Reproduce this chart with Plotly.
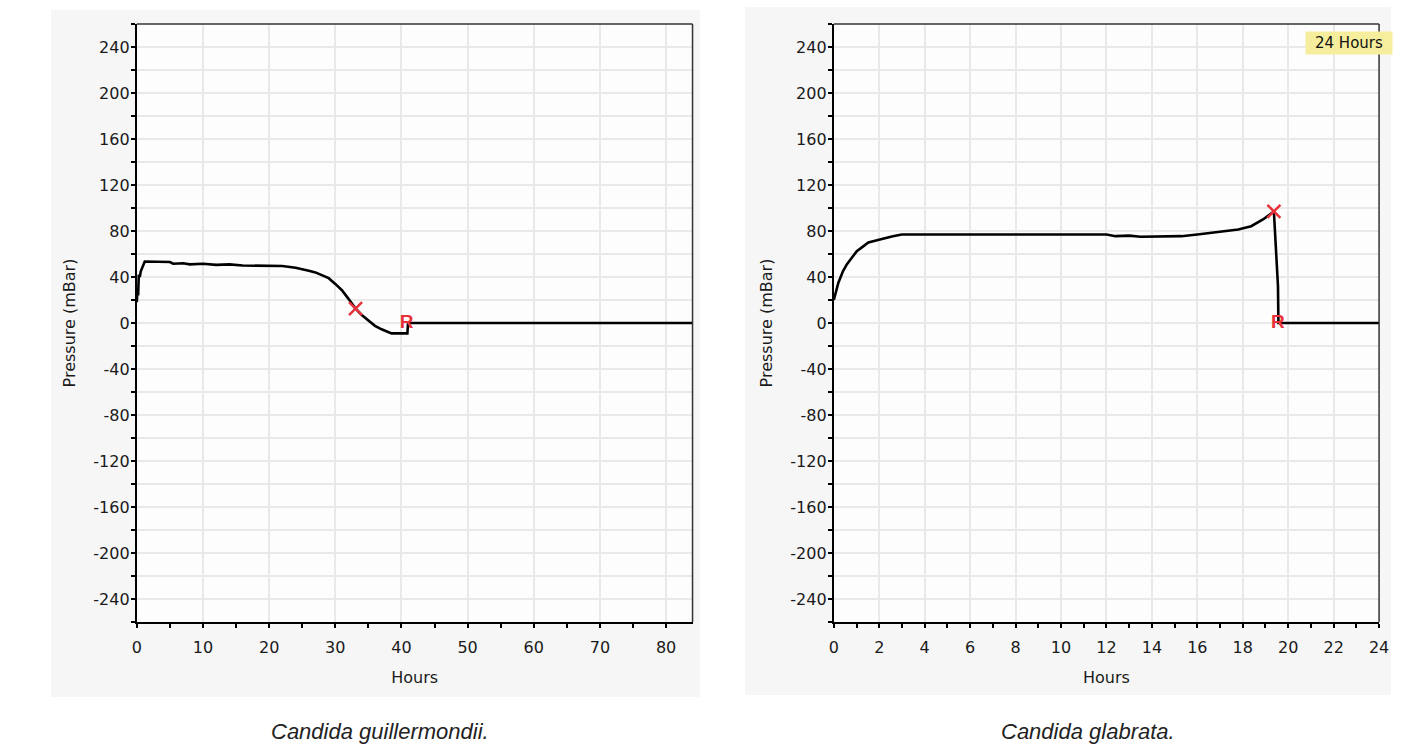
import plotly.graph_objects as go

# ---------------- data ----------------
guil_hours = [0.0, 0.1, 0.2, 0.3, 0.45, 0.6, 1.2, 3.0, 5.0, 5.5, 7.0, 8.0, 10.0, 12.0, 14.0,
              16.0, 18.0, 20.0, 22.0, 24.0, 25.0, 26.0, 27.0, 28.0, 29.0, 30.0, 31.0, 32.0,
              33.0, 34.0, 35.0, 36.0, 37.0, 38.0, 38.5, 40.9, 41.0, 84.0]
guil_pressure = [18, 30, 24, 42, 40, 45, 53.5, 53.5, 53, 51.5, 52, 51, 51.5, 50.5, 51,
                 50, 50, 50, 49.5, 48, 47, 45.5, 44, 41.5, 39, 34, 28.5, 21,
                 13, 7, 2, -2.5, -5.5, -8, -9, -9, 0, 0]
guil_x_mark = [33.06]
guil_x_val = [12.6]
guil_r_mark = [40.8]
guil_r_val = [0]

glab_hours = [0.0, 0.1, 0.2, 0.4, 0.57, 0.8, 1.01, 1.25, 1.52, 1.9, 2.24, 2.6, 2.99, 4.0, 6.0,
              8.0, 10.0, 12.0, 12.4, 13.0, 13.5, 15.0, 15.3, 16.0, 16.75, 17.8, 18.37, 18.89,
              19.37, 19.44, 19.55, 19.57, 20.0, 24.0]
glab_pressure = [20, 28, 35, 45, 51, 57, 62.4, 66, 70, 72, 74, 75.5, 77, 77, 77,
                 77, 77, 77, 75.5, 76, 75, 75, 75.5, 77, 78.7, 81.3, 84.2, 90,
                 97, 67, 32, 0, 0, 0]
glab_x_mark = [19.37]
glab_x_val = [97]
glab_r_mark = [19.55]
glab_r_val = [0]

y_ticks = [-240, -200, -160, -120, -80, -40, 0, 40, 80, 120, 160, 200, 240]
guil_xticks = [0, 10, 20, 30, 40, 50, 60, 70, 80]
glab_xticks = [0, 2, 4, 6, 8, 10, 12, 14, 16, 18, 20, 22, 24]

captions = ["Candida guillermondii.", "Candida glabrata."]
badge_text = "24 Hours"

# ---------------- figure ----------------
REF_W = 1427
W, H = 1440, 749             # drawn at the page's top-left corner (body margin removed)
SHIFT = 2

def px(x):                   # target picture pixel -> paper x
    return (x - SHIFT) / REF_W

def py(y):                   # target picture pixel -> paper y
    return (H - y) / H

RED = "#e8323a"
TICKFONT = dict(family="DejaVu Sans", size=16, color="#1a1a1a")
GRID = "#e9e9e9"

fig = go.Figure()

def add_series(xs, ys, xm, ym, xr, yr, xa, ya):
    fig.add_trace(go.Scatter(x=xs, y=ys, mode="lines", xaxis=xa, yaxis=ya,
                             line=dict(color="black", width=2.6), showlegend=False,
                             hoverinfo="skip"))
    fig.add_trace(go.Scatter(x=xm, y=ym, mode="markers", xaxis=xa, yaxis=ya,
                             marker=dict(symbol="x-thin", size=13,
                                         line=dict(color=RED, width=2.5)),
                             showlegend=False, hoverinfo="skip"))
    fig.add_trace(go.Scatter(x=xr, y=yr, mode="text", xaxis=xa, yaxis=ya, text=["R"],
                             textposition="middle center",
                             textfont=dict(family="Liberation Sans", size=19, color=RED,
                                           weight="bold"),
                             showlegend=False, hoverinfo="skip"))

add_series(guil_hours, guil_pressure, guil_x_mark, guil_x_val, guil_r_mark, guil_r_val, "x", "y")
add_series(glab_hours, glab_pressure, glab_x_mark, glab_x_val, glab_r_mark, glab_r_val, "x2", "y2")

ydom = [py(622), py(24)]
xdom1 = [px(134), px(690.5)]
xdom2 = [px(832), px(1378)]

def xaxis_cfg(dom, rng, ticks, minor_dtick, anchor):
    return dict(domain=dom, range=rng, anchor=anchor, tickmode="array", tickvals=ticks,
                ticktext=[str(t) for t in ticks],
                showline=True, linecolor="black", linewidth=2, mirror=False,
                ticks="outside", ticklen=4, tickwidth=2, tickcolor="black",
                ticklabelstandoff=6,
                showgrid=True, gridcolor=GRID, gridwidth=2, zeroline=False,
                tickfont=TICKFONT,
                minor=dict(dtick=minor_dtick, tick0=0, ticks="outside", ticklen=4,
                           tickwidth=2, tickcolor="black", showgrid=False),
                title=dict(text="Hours", font=dict(family="DejaVu Sans", size=16,
                                                   color="#1a1a1a"), standoff=16),
                fixedrange=True)

def yaxis_cfg(anchor):
    return dict(domain=ydom, range=[-260, 260], anchor=anchor, tickmode="array",
                tickvals=y_ticks, ticktext=[str(t) for t in y_ticks],
                showline=True, linecolor="black", linewidth=2, mirror=False,
                ticks="outside", ticklen=4, tickwidth=2, tickcolor="black",
                ticklabelstandoff=-2,
                showgrid=True, gridcolor=GRID, gridwidth=2, zeroline=False,
                tickfont=TICKFONT,
                minor=dict(dtick=20, tick0=0, ticks="outside", ticklen=4, tickwidth=2,
                           tickcolor="black", showgrid=True, gridcolor=GRID, gridwidth=2),
                title=dict(text="Pressure (mBar)", font=dict(family="DejaVu Sans", size=16,
                                                             color="#1a1a1a"), standoff=14),
                fixedrange=True)

shapes = [
    # light grey panels behind each chart
    dict(type="rect", xref="paper", yref="paper", x0=px(48), x1=px(698),
         y0=py(697), y1=py(10), fillcolor="#f6f6f6", line=dict(width=0), layer="below"),
    dict(type="rect", xref="paper", yref="paper", x0=px(743), x1=px(1390),
         y0=py(695), y1=py(7), fillcolor="#f6f6f6", line=dict(width=0), layer="below"),
    # near-white plotting areas
    dict(type="rect", xref="x domain", yref="y domain", x0=0, x1=1, y0=0, y1=1,
         fillcolor="#fdfdfd", line=dict(width=0), layer="below"),
    dict(type="rect", xref="x2 domain", yref="y2 domain", x0=0, x1=1, y0=0, y1=1,
         fillcolor="#fdfdfd", line=dict(width=0), layer="below"),
]
for xr_, yr_ in (("x domain", "y domain"), ("x2 domain", "y2 domain")):
    shapes.append(dict(type="line", xref=xr_, yref=yr_, x0=0, x1=1, y0=1, y1=1,
                       line=dict(color="#333333", width=1.5), layer="above"))
    shapes.append(dict(type="line", xref=xr_, yref=yr_, x0=1, x1=1, y0=0, y1=1,
                       line=dict(color="#333333", width=1.5), layer="above"))

annotations = [
    dict(text=captions[0], xref="paper", yref="paper", x=px(378), y=py(731),
         showarrow=False, xanchor="center", yanchor="middle",
         font=dict(family="Liberation Sans", size=22, color="#222222", style="italic")),
    dict(text=captions[1], xref="paper", yref="paper", x=px(1087), y=py(731),
         showarrow=False, xanchor="center", yanchor="middle",
         font=dict(family="Liberation Sans", size=22, color="#222222", style="italic")),
    dict(text=badge_text, xref="paper", yref="paper", x=px(1348), y=py(43),
         showarrow=False, xanchor="center", yanchor="middle", bgcolor="#f6ee9c",
         width=84, height=20, borderpad=1,
         font=dict(family="DejaVu Sans", size=15, color="#111111")),
]

fig.update_layout(
    width=W, height=H, autosize=False,
    margin=dict(l=0, r=0, t=0, b=0),
    paper_bgcolor="white", plot_bgcolor="#fdfdfd",
    xaxis=xaxis_cfg(xdom1, [0, 84], guil_xticks, 5, "y"),
    yaxis=yaxis_cfg("x"),
    xaxis2=xaxis_cfg(xdom2, [0, 24], glab_xticks, 1, "y2"),
    yaxis2=yaxis_cfg("x2"),
    shapes=shapes, annotations=annotations,
)

fig.write_html(
    "out.html",
    config={"displayModeBar": False, "responsive": False},
    post_script=("document.documentElement.style.overflow='hidden';"
                 "document.body.style.margin='0';"
                 "document.body.style.overflow='hidden';"),
)
